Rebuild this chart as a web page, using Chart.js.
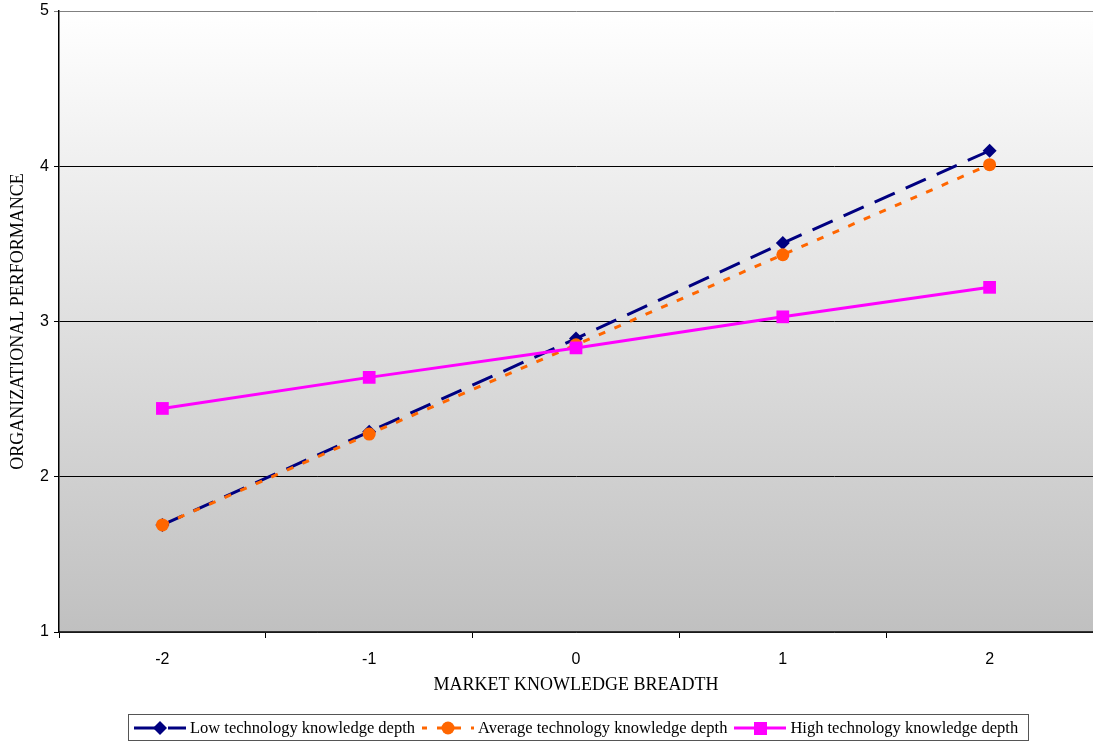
<!DOCTYPE html>
<html lang="en">
<head>
  <meta charset="UTF-8" />
  <title>Organizational Performance</title>
  <style>
    body { margin: 0; background: #fff; overflow: hidden; }
    #wrap { position: relative; width: 1093px; height: 744px; }
    #chart { display: block; }
    #legend {
      position: absolute;
      left: 128px;
      top: 714px;
      width: 901px;
      height: 27px;
      border: 1px solid #555;
      display: flex;
      align-items: center;
      font-family: 'Liberation Serif', serif;
      font-size: 16.5px;
      color: #000;
      box-sizing: border-box;
      padding-left: 5px;
    }
    #legend span.item { display: flex; align-items: center; white-space: nowrap; margin-right: 7px; }
    #legend canvas { margin-right: 4px; }
  </style>
</head>
<body>
  <div id="wrap">
    <canvas id="chart" width="1093" height="744"></canvas>
    <div id="legend"></div>
  </div>

  <script src="https://cdn.jsdelivr.net/npm/chart.js"></script>
  <script>
    // values
    const breadth = ["-2", "-1", "0", "1", "2"];
    const lowDepth = [1.69, 2.29, 2.89, 3.505, 4.10];
    const avgDepth = [1.69, 2.275, 2.85, 3.43, 4.01];
    const highDepth = [2.44, 2.64, 2.83, 3.03, 3.22];
    const yTicks = [1, 2, 3, 4, 5];

    // order: high drawn on top, low at the bottom
    const series = [
      { label: "Low technology knowledge depth", data: lowDepth, color: "#000080", dash: [22, 12], point: "rectRot", radius: 7, order: 2 },
      { label: "Average technology knowledge depth", data: avgDepth, color: "#FF6600", dash: [7, 10], point: "circle", radius: 6.5, order: 1 },
      { label: "High technology knowledge depth", data: highDepth, color: "#FF00FF", dash: [], point: "rect", radius: 9, order: 0 }
    ];

    // grey fade behind the plot
    const plotBackground = {
      id: "plotBackground",
      beforeDraw(chart) {
        const { ctx, chartArea: a } = chart;
        const g = ctx.createLinearGradient(0, a.top, 0, a.bottom);
        g.addColorStop(0, "#ffffff");
        g.addColorStop(1, "#c0c0c0");
        ctx.save();
        ctx.fillStyle = g;
        ctx.fillRect(a.left, a.top, a.right - a.left, a.bottom - a.top);
        ctx.restore();
      }
    };

    new Chart(document.getElementById("chart"), {
      type: "line",
      data: {
        labels: breadth,
        datasets: series.map(s => ({
          label: s.label,
          data: s.data,
          order: s.order,
          borderColor: s.color,
          backgroundColor: s.color,
          borderWidth: 3,
          borderDash: s.dash,
          pointStyle: s.point,
          pointRadius: s.radius,
          pointHoverRadius: s.radius,
          pointBorderWidth: 0,
          tension: 0,
          fill: false
        }))
      },
      options: {
        responsive: false,
        animation: false,
        layout: { autoPadding: false, padding: { top: 11, right: 0, bottom: 44, left: 0 } },
        plugins: {
          legend: { display: false },
          tooltip: { enabled: false }
        },
        scales: {
          x: {
            offset: true,
            afterFit: scale => {
              scale.height = 68;
              scale.paddingLeft = 0;
              scale.paddingRight = 0;
            },
            grid: {
              offset: true,
              drawOnChartArea: false,
              color: "#000",
              tickLength: 6
            },
            border: { color: "#333", width: 1.5 },
            ticks: {
              color: "#000",
              padding: 12,
              font: { family: "'Liberation Sans', Arial, sans-serif", size: 16 }
            },
            title: {
              display: true,
              text: "MARKET KNOWLEDGE BREADTH",
              color: "#000",
              padding: { top: 0, bottom: 4 },
              font: { family: "'Liberation Serif', serif", size: 18 }
            }
          },
          y: {
            min: 1,
            max: 5,
            afterFit: scale => {
              scale.width = 59;
              scale.paddingTop = 0;
              scale.paddingBottom = 0;
            },
            afterBuildTicks: scale => { scale.ticks = yTicks.map(v => ({ value: v })); },
            grid: {
              color: ctx => (ctx.tick && ctx.tick.value === 5 ? "#808080" : "#000"),
              lineWidth: 1,
              tickLength: 5
            },
            border: { color: "#000", width: 1.5 },
            ticks: {
              color: "#000",
              padding: 5,
              font: { family: "'Liberation Sans', Arial, sans-serif", size: 16 }
            },
            title: {
              display: true,
              text: "ORGANIZATIONAL PERFORMANCE",
              color: "#000",
              padding: { top: 7, bottom: 0 },
              font: { family: "'Liberation Serif', serif", size: 18 }
            }
          }
        }
      },
      plugins: [plotBackground]
    });

    // legend with line + marker swatches
    const legend = document.getElementById("legend");
    series.forEach(s => {
      const item = document.createElement("span");
      item.className = "item";
      const c = document.createElement("canvas");
      c.width = 52; c.height = 16;
      const g = c.getContext("2d");
      g.strokeStyle = s.color;
      g.fillStyle = s.color;
      g.lineWidth = 3;
      if (s.dash.length) {
        g.setLineDash(s.dash);
        g.lineDashOffset = s.point === "circle" ? 2 : 0;
      }
      g.beginPath(); g.moveTo(0, 8); g.lineTo(52, 8); g.stroke();
      g.setLineDash([]);
      g.beginPath();
      if (s.point === "circle") g.arc(26, 8, 6.5, 0, Math.PI * 2);
      else if (s.point === "rect") g.rect(20, 2, 13, 13);
      else { g.moveTo(26, 1); g.lineTo(33, 8); g.lineTo(26, 15); g.lineTo(19, 8); g.closePath(); }
      g.fill();
      item.appendChild(c);
      item.appendChild(document.createTextNode(s.label));
      legend.appendChild(item);
    });
  </script>
</body>
</html>
